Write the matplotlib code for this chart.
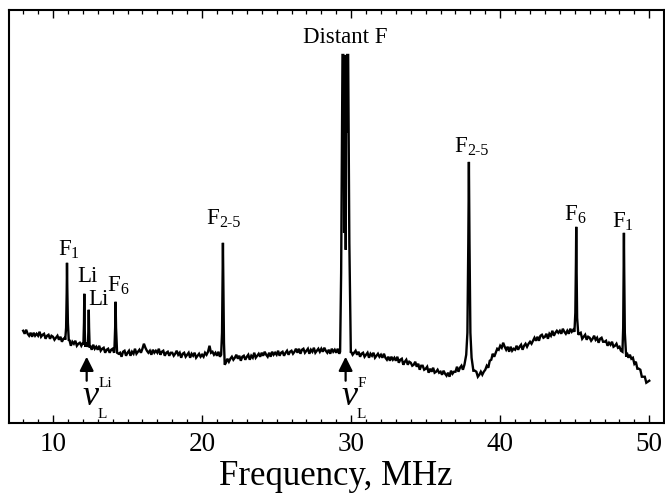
import numpy as np
import matplotlib
matplotlib.use("Agg")
import matplotlib.pyplot as plt
from matplotlib.ticker import MultipleLocator

plt.rcParams['font.family'] = ['Liberation Serif', 'DejaVu Serif']

# ---------------- data (intensity in arbitrary units) ----------------
base_start, base_step = 8.0, 0.1
baseline_vals = [
    92, 89, 93, 89, 87, 90, 86, 90, 87, 89,   # 8
    87, 91, 86, 88, 89, 84, 87, 88, 84, 87,   # 9
    86, 83, 85, 87, 83, 86, 81, 84, 85, 81,   # 10
    81, 83, 77, 81, 79, 82, 77, 79, 80, 77,   # 11
    80, 77, 80, 77, 75, 77, 73, 78, 74, 76,   # 12
    73, 77, 72, 74, 75, 70, 73, 74, 70, 73,   # 13
    74, 70, 72, 74, 69, 70, 66, 71, 72, 67,   # 14
    70, 72, 67, 71, 69, 74, 69, 71, 73, 70,   # 15
    74, 79, 75, 72, 70, 72, 68, 73, 70, 72,   # 16
    70, 74, 68, 71, 72, 67, 70, 71, 67, 70,   # 17
    70, 67, 69, 72, 68, 70, 65, 69, 70, 66,   # 18
    68, 70, 65, 69, 67, 70, 65, 67, 69, 66,   # 19
    68, 66, 70, 68, 71, 77, 70, 71, 68, 70,   # 20
    67, 71, 66, 69, 70, 55, 60, 64, 61, 64,   # 21
    66, 63, 65, 68, 64, 67, 62, 66, 67, 63,   # 22
    66, 68, 63, 67, 65, 70, 65, 67, 69, 66,   # 23
    70, 67, 71, 68, 66, 70, 66, 71, 68, 70,   # 24
    68, 72, 67, 70, 71, 67, 70, 72, 68, 71,   # 25
    72, 69, 71, 74, 70, 74, 69, 73, 74, 70,   # 26
    72, 74, 69, 73, 71, 75, 70, 72, 74, 71,   # 27
    74, 71, 75, 72, 70, 73, 69, 74, 71, 73,   # 28
    70, 74, 69, 72, 73, 67, 70, 72, 68, 71,   # 29
    71, 68, 70, 72, 68, 71, 66, 69, 70, 66,   # 30
    68, 70, 65, 69, 67, 70, 65, 67, 69, 66,   # 31
    68, 65, 69, 65, 63, 66, 62, 66, 63, 65,   # 32
    62, 66, 60, 63, 64, 58, 61, 63, 58, 61,   # 33
    60, 57, 58, 61, 56, 59, 53, 57, 57, 53,   # 34
    54, 56, 50, 54, 51, 55, 50, 51, 53, 50,   # 35
    51, 48, 52, 49, 47, 50, 46, 52, 49, 51,   # 36
    51, 56, 51, 55, 57, 53, 57, 60, 56, 59,   # 37
    60, 58, 51, 52, 51, 46, 48, 51, 48, 51,   # 38
    53, 57, 55, 62, 63, 69, 66, 70, 74, 73,   # 39
    77, 75, 80, 76, 73, 76, 71, 76, 72, 74,   # 40
    73, 77, 73, 76, 78, 73, 77, 79, 76, 79,   # 41
    81, 79, 82, 85, 82, 86, 82, 87, 88, 85,   # 42
    86, 89, 84, 89, 87, 92, 87, 90, 92, 90,   # 43
    92, 89, 94, 91, 89, 92, 89, 94, 91, 93,   # 44
    91, 95, 87, 89, 90, 84, 86, 88, 83, 86,   # 45
    85, 82, 84, 87, 83, 85, 80, 84, 85, 81,   # 46
    81, 82, 77, 80, 78, 81, 76, 77, 79, 75,   # 47
    76, 72, 75, 71, 68, 70, 65, 68, 64, 65,   # 48
    59, 61, 54, 54, 53, 46, 46, 46, 40, 41,   # 49
    42,                                       # 50
]

# peak segments: (frequency MHz, intensity)
peak_F1_a = [(10.82, 83), (10.88, 95), (10.92, 130), (10.94, 160), (10.96, 135), (11.00, 100), (11.06, 82)]
peak_Li_a = [(12.04, 78), (12.08, 100), (12.10, 129), (12.12, 100), (12.16, 76)]
peak_Li_b = [(12.34, 76), (12.38, 95), (12.40, 113), (12.42, 95), (12.46, 75)]
peak_F6_a = [(14.12, 73), (14.17, 95), (14.20, 121), (14.23, 95), (14.30, 70)]
peak_F25_a = [(21.28, 68), (21.34, 90), (21.38, 150), (21.40, 180), (21.42, 150), (21.47, 80), (21.52, 58)]
peak_distF = [(29.26, 71), (29.33, 150), (29.42, 368), (29.47, 368), (29.49, 300), (29.51, 368),
              (29.53, 190), (29.55, 368), (29.58, 260), (29.60, 368), (29.64, 173), (29.67, 368),
              (29.71, 290), (29.74, 368), (29.80, 368), (29.88, 180), (29.98, 70)]
peak_F25_b = [(37.60, 58), (37.72, 68), (37.80, 90), (37.86, 180), (37.90, 261), (37.94, 180),
              (38.00, 90), (38.08, 65), (38.20, 52)]
peak_F6_b = [(44.98, 91), (45.04, 110), (45.08, 160), (45.10, 196), (45.12, 160), (45.16, 105), (45.24, 88)]
peak_F1_b = [(48.20, 71), (48.25, 95), (48.28, 150), (48.30, 190), (48.32, 150), (48.36, 90), (48.45, 66)]
peaks = [peak_F1_a, peak_Li_a, peak_Li_b, peak_F6_a, peak_F25_a, peak_distF, peak_F25_b, peak_F6_b, peak_F1_b]

# peak labels: main text, subscript, junction x, baseline y
label_text = ['F', 'Li', 'Li', 'F', 'F', 'F', 'F', 'F']
label_sub = ['1', '', '', '6', '2-5', '2-5', '6', '1']
label_x = [11.21, 12.28, 13.02, 14.49, 21.13, 37.77, 45.15, 48.37]
label_y = [168, 141, 118, 132, 199, 271, 203, 196]
distant_label = ('Distant F', 29.6, 380)

# Larmor frequency markers
larmor_x = [12.26, 29.63]
larmor_sup = ['Li', 'F']

# ---------------- build trace ----------------
bf = base_start + base_step * np.arange(len(baseline_vals))
bv = np.array(baseline_vals, dtype=float)
keep = np.ones(len(bf), dtype=bool)
pf_all, pv_all = [], []
for seg in peaks:
    f = np.array([p[0] for p in seg]); v = np.array([p[1] for p in seg])
    keep &= ~((bf >= f.min()) & (bf <= f.max()))
    pf_all.append(f); pv_all.append(v)
freq = np.concatenate([bf[keep]] + pf_all)
inten = np.concatenate([bv[keep]] + pv_all)
order = np.argsort(freq, kind='stable')
freq, inten = freq[order], inten[order]

# ---------------- figure ----------------
fig = plt.figure(figsize=(6.65, 4.96), dpi=100)
ax = fig.add_axes([0.0131, 0.1478, 0.985, 0.832])
ax.plot(freq, inten, color='black', lw=1.7, solid_joinstyle='miter')
ax.set_xlim(7.03, 50.97)
ax.set_ylim(0, 413)

for s in ax.spines.values():
    s.set_linewidth(1.5)
ax.xaxis.set_major_locator(MultipleLocator(10))
ax.xaxis.set_minor_locator(MultipleLocator(1))
ax.tick_params(axis='x', which='both', direction='in', top=True, bottom=True, labelsize=19.5, pad=7)
ax.tick_params(axis='x', which='major', length=5.5, width=1.0)
ax.tick_params(axis='x', which='minor', length=3, width=0.9)
ax.set_yticks([])
ax.set_xlabel('Frequency, MHz', fontsize=25, labelpad=2)

for t, s, x, y in zip(label_text, label_sub, label_x, label_y):
    if s:
        ax.text(x, y, t, ha='right', va='baseline', fontsize=16.5)
        ax.text(x, y - 3, s, ha='left', va='baseline', fontsize=11.5)
    else:
        ax.text(x, y, t, ha='center', va='baseline', fontsize=16.5)
ax.text(distant_label[1], distant_label[2], distant_label[0], ha='center', va='baseline', fontsize=16.5)

for x, sup in zip(larmor_x, larmor_sup):
    ax.annotate('', xy=(x, 66), xytext=(x, 42),
                arrowprops=dict(arrowstyle='-|>,head_length=0.6,head_width=0.3', color='black', lw=1.6,
                                shrinkA=0, shrinkB=0, mutation_scale=14))
    ax.text(x + 0.27, 18, '\u03bd', ha='center', va='baseline', fontsize=26, fontstyle='italic')
    ax.text(x + 0.80, 36, sup, ha='left', va='baseline', fontsize=11)
    ax.text(x + 0.76, 5, 'L', ha='left', va='baseline', fontsize=11)

fig.savefig('out.png', dpi=100)
